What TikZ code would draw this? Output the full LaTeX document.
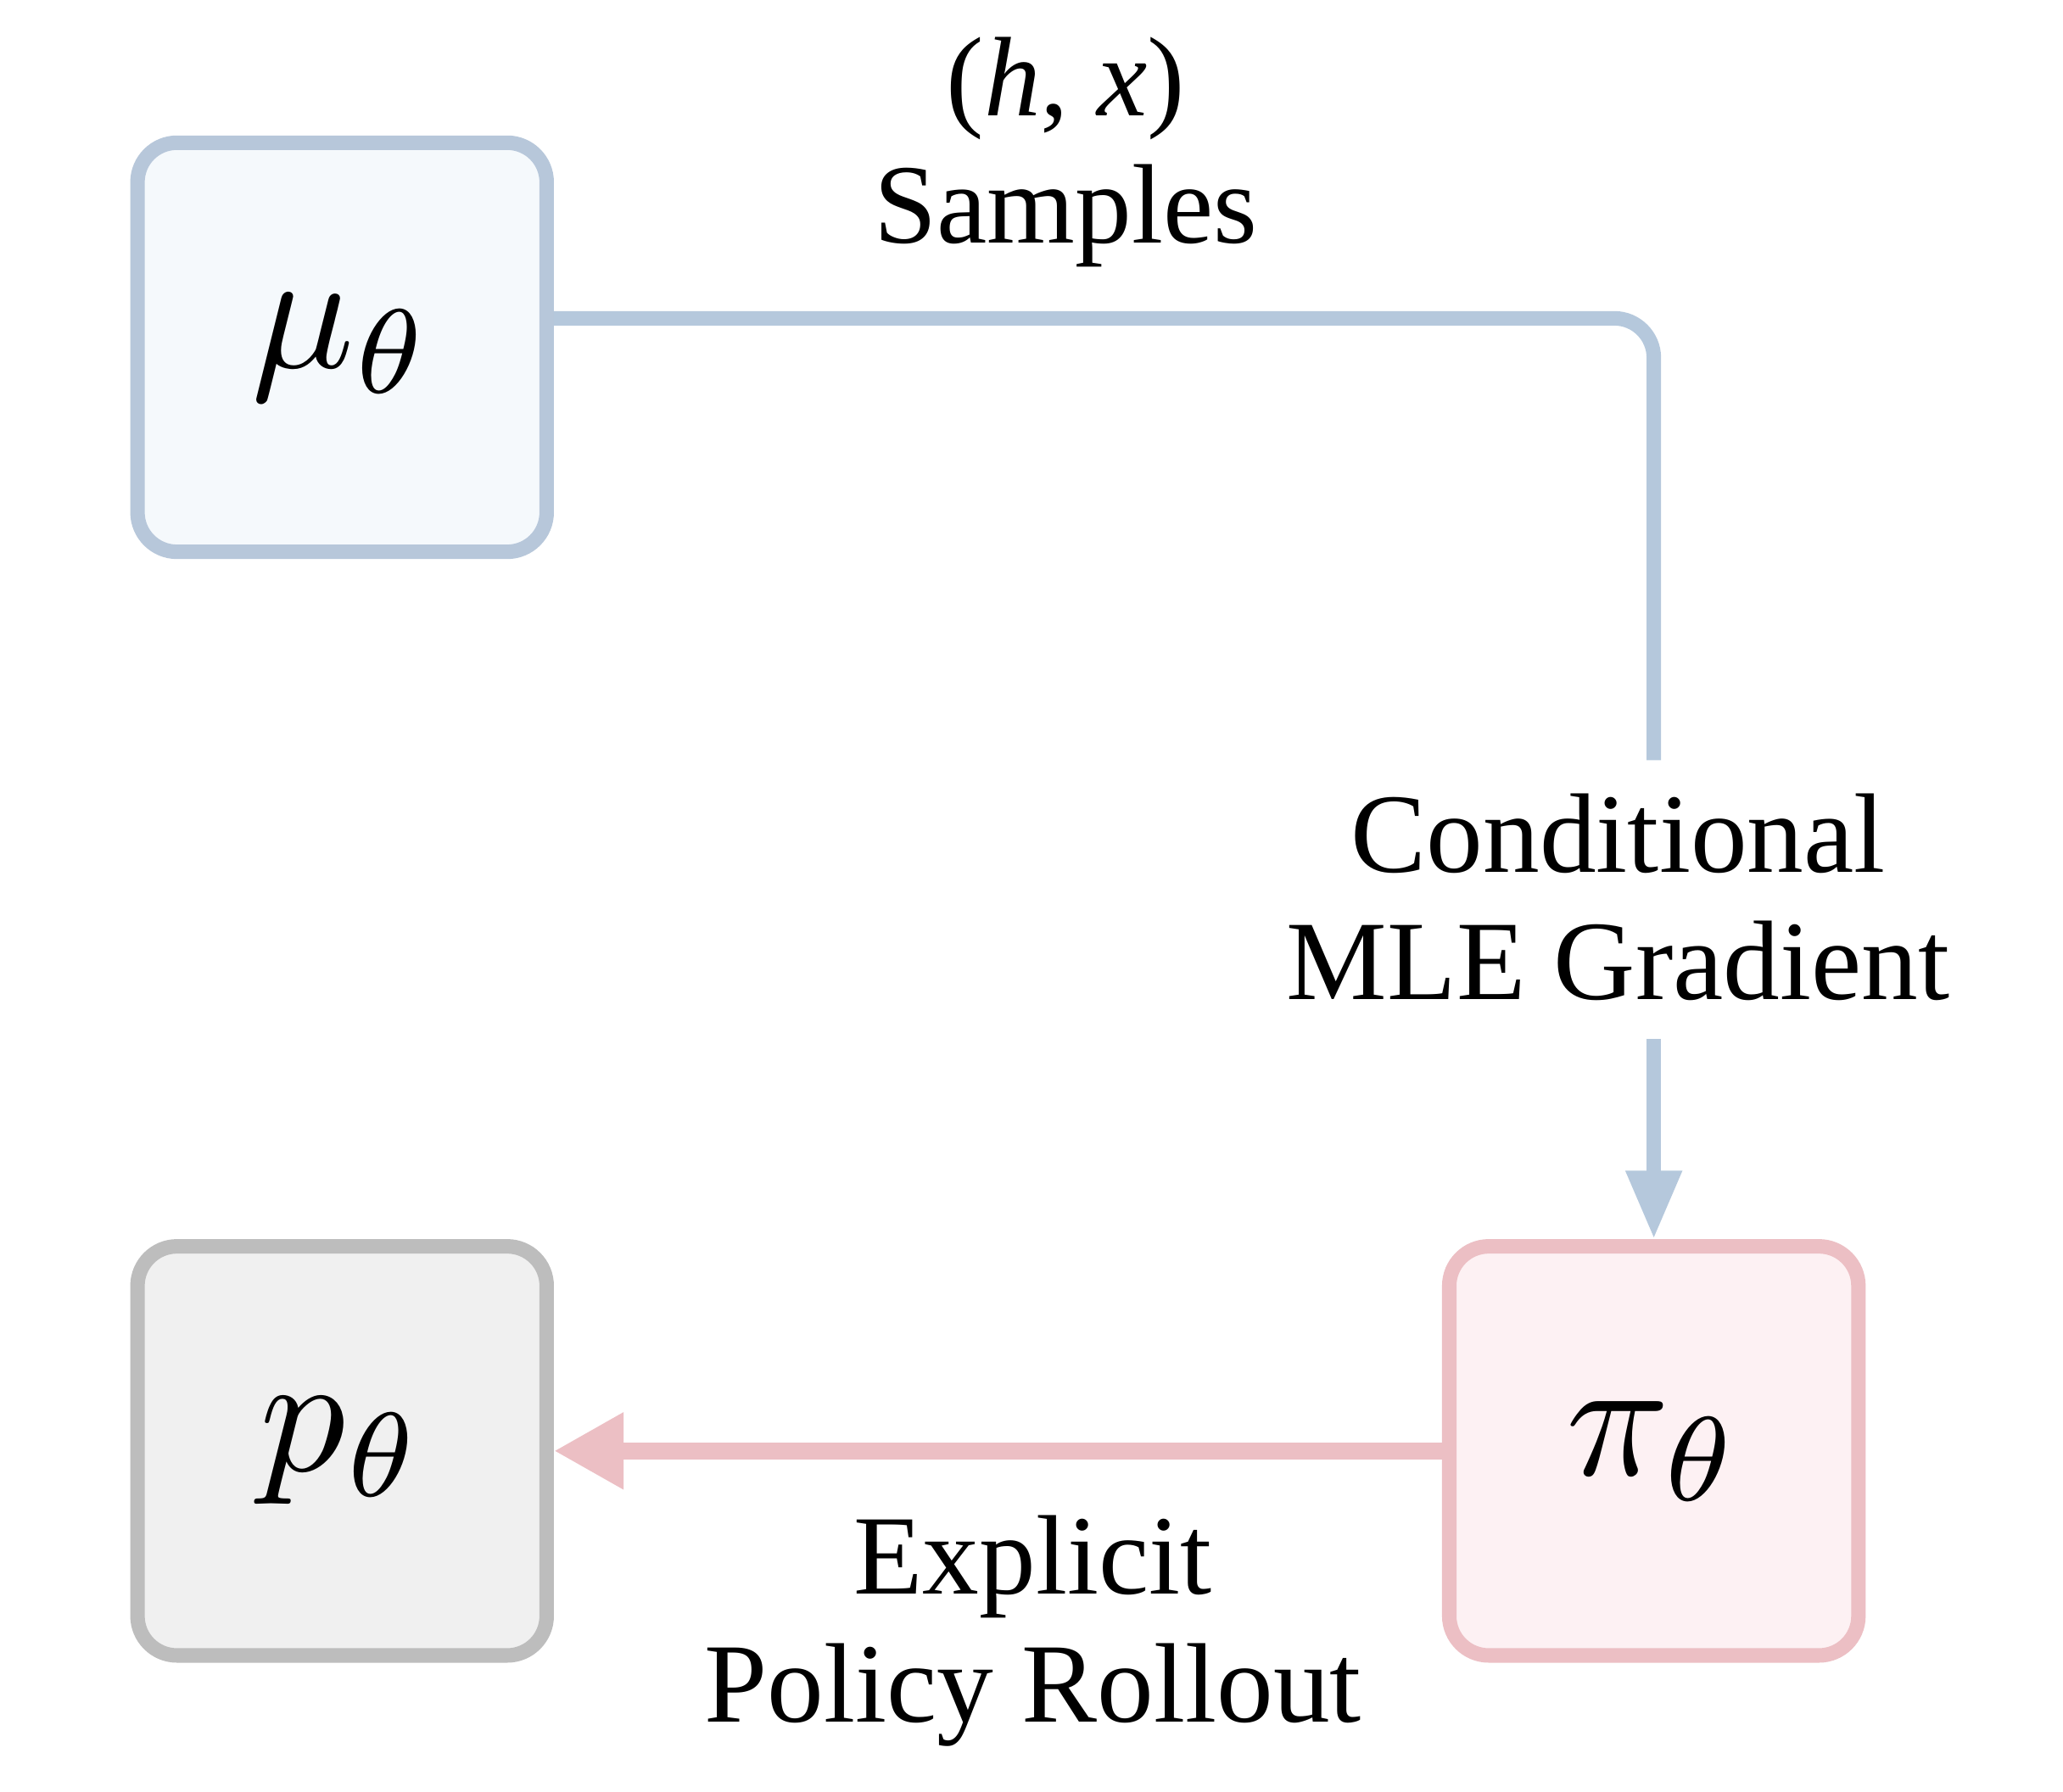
\documentclass[tikz,border=0pt]{standalone}
\usepackage{fontspec}
\setmainfont{Liberation Serif}
\usetikzlibrary{arrows.meta}
\definecolor{bluestroke}{RGB}{183,199,218}
\definecolor{bluefill}{RGB}{245,249,252}
\definecolor{graystroke}{RGB}{189,189,189}
\definecolor{grayfill}{RGB}{240,240,240}
\definecolor{pinkstroke}{RGB}{236,191,196}
\definecolor{pinkfill}{RGB}{253,241,243}
\definecolor{blueline}{RGB}{181,200,220}
\definecolor{pinkline}{RGB}{236,191,196}
\newcommand{\bigmath}[1]{\scalebox{13}{\fontsize{10}{12}\selectfont$#1$}}
\tikzset{
  box/.style={draw, line width=11pt, rounded corners=30pt, minimum width=311pt, minimum height=311pt, inner sep=0pt},
  lbl/.style={anchor=base, inner sep=0pt, font=\fontsize{86}{97}\selectfont},
  bluearrow/.style={draw=blueline, line width=11pt},
  pinkarrow/.style={draw=pinkline, line width=13pt}
}
\begin{document}
\begin{tikzpicture}[x=1pt,y=-1pt]
\useasboundingbox[fill=white] (0,0) rectangle (1568,1362);
\node[box, draw=bluestroke, fill=bluefill] (mu) at (260,264) {\bigmath{\mu_\theta}};
\node[box, draw=graystroke, fill=grayfill] (p) at (260,1103) {\bigmath{p_\theta}};
\node[box, draw=pinkstroke, fill=pinkfill] (pi) at (1257,1103) {\bigmath{\pi_\theta}};
\coordinate (gapA) at (1257,578);
\coordinate (gapB) at (1257,790);
\draw[bluearrow, rounded corners=30pt] ([yshift=22pt]mu.east) -| (gapA);
\draw[bluearrow, -{Triangle[length=52pt,width=40pt]}] (gapB) -- (pi.north);
\draw[pinkarrow, -{Triangle[length=53pt,width=55pt]}] (pi.west) -- (p.east);
\node[lbl] (samples) at (810,88) {\begin{tabular}[t]{@{}c@{}}(\textit{h}, \textit{x})\\Samples\end{tabular}};
\node[lbl] (cond) at (1230,663) {\begin{tabular}[t]{@{}c@{}}Conditional\\MLE Gradient\end{tabular}};
\node[lbl] (roll) at (785,1212) {\begin{tabular}[t]{@{}c@{}}Explicit\\Policy Rollout\end{tabular}};
\end{tikzpicture}
\end{document}
